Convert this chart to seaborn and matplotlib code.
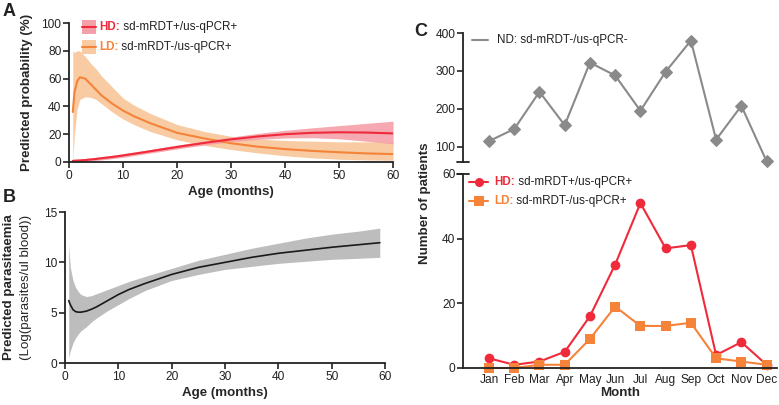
import numpy as np
import pandas as pd
import matplotlib
matplotlib.use("Agg")
import matplotlib.pyplot as plt
import seaborn as sns
from matplotlib.lines import Line2D

sns.set_theme(style="ticks")
plt.rcParams["font.family"] = ["Liberation Sans", "DejaVu Sans"]

# ---- panel A: predicted probability by age ----
age_a = [0.7, 1, 1.5, 2, 3, 4, 5, 6, 8, 10, 12, 15, 20, 25, 30, 35, 40, 45, 50, 55, 60]
ld_mid = [36, 50, 58, 61, 60, 56, 52, 48, 42, 37, 33, 28, 21, 17, 13.5, 11, 9.3, 8, 7, 6.2, 5.7]
ld_hi = [80, 79, 80, 80, 76, 71, 67, 62, 54, 46, 41, 35, 27, 22, 18.5, 16.5, 15.5, 15, 14.5, 14.5, 14.5]
ld_lo = [0, 20, 38, 45, 47, 46.5, 45, 42, 36, 31, 27, 22, 16, 12, 9, 6.5, 4.5, 3, 2, 1.5, 1.2]
hd_mid = [0.8, 0.9, 1.0, 1.1, 1.4, 1.8, 2.2, 2.7, 3.6, 4.7, 5.9, 7.7, 10.8, 13.7, 16.3, 18.4, 20.0, 21.0, 21.4, 21.2, 20.6]
hd_hi = [2.0, 2.0, 2.1, 2.2, 2.5, 2.9, 3.4, 3.9, 4.9, 6.0, 7.2, 9.0, 12.2, 15.2, 18.0, 20.6, 22.8, 24.6, 26.2, 27.8, 29.4]
hd_lo = [0.2, 0.2, 0.3, 0.3, 0.5, 0.8, 1.1, 1.5, 2.4, 3.4, 4.6, 6.4, 9.4, 12.2, 14.6, 16.3, 17.3, 17.5, 16.7, 15.0, 13.0]

# ---- panel B: predicted parasitaemia ----
age_b = [0.7, 1, 1.5, 2, 2.5, 3, 4, 5, 6, 8, 10, 12, 15, 20, 25, 30, 35, 40, 45, 50, 55, 59]
par_mid = [6.2, 5.8, 5.3, 5.1, 5.05, 5.05, 5.15, 5.35, 5.6, 6.2, 6.8, 7.3, 7.9, 8.8, 9.5, 10.0, 10.5, 10.9, 11.2, 11.5, 11.75, 11.95]
par_hi = [11.8, 9.5, 8.2, 7.5, 7.1, 6.8, 6.6, 6.7, 6.9, 7.3, 7.7, 8.1, 8.6, 9.4, 10.2, 10.8, 11.4, 11.9, 12.4, 12.8, 13.1, 13.4]
par_lo = [0.5, 1.2, 2.0, 2.5, 2.9, 3.2, 3.6, 4.1, 4.5, 5.2, 5.8, 6.4, 7.2, 8.2, 8.8, 9.3, 9.6, 9.9, 10.1, 10.3, 10.4, 10.5]

# ---- panel C: monthly counts ----
months = ["Jan", "Feb", "Mar", "Apr", "May", "Jun", "Jul", "Aug", "Sep", "Oct", "Nov", "Dec"]
nd_counts = [115, 147, 245, 157, 322, 288, 195, 298, 380, 119, 208, 62]
hd_counts = [3, 1, 2, 5, 16, 32, 51, 37, 38, 4, 8, 1]
ld_counts = [0, 0, 1, 1, 9, 19, 13, 13, 14, 3, 2, 1]

RED = "#ef2b3b"
RED_BAND = "#f5a0a8"
ORANGE = "#f5833a"
ORANGE_BAND = "#f9cba2"
GREY = "#8a8a8a"

TICK_FS = 8.6
LAB_FS = 9.6
LEG_FS = 8.4

fig = plt.figure(figsize=(7.79, 4.05), dpi=100)


def style_axis(ax):
    sns.despine(ax=ax)
    for s in ("left", "bottom"):
        ax.spines[s].set_linewidth(1.3)
        ax.spines[s].set_color("#222222")
    ax.tick_params(axis="both", length=4, width=1.2, labelsize=TICK_FS,
                   colors="#222222", pad=1.5)


def two_tone_text(ax, x, y, head, tail, color, head_bold=True):
    t = ax.text(x, y, head, color=color, fontsize=LEG_FS,
                fontweight="bold" if head_bold else "normal",
                transform=fig.transFigure, va="center", ha="left")
    ax.annotate(" " + tail, xy=(1, 0.5), xycoords=t, va="center", ha="left",
                fontsize=LEG_FS, color="#222222", zorder=10)


# ---------------- Panel A ----------------
axA = fig.add_axes([0.0886, 0.6, 0.416, 0.343])
axA.fill_between(age_a, ld_lo, ld_hi, color=ORANGE_BAND, lw=0)
axA.fill_between(age_a, hd_lo, hd_hi, color=RED_BAND, lw=0, alpha=0.9)
dfA = pd.DataFrame({"age": age_a * 2, "p": ld_mid + hd_mid,
                    "grp": ["LD"] * len(age_a) + ["HD"] * len(age_a)})
sns.lineplot(data=dfA, x="age", y="p", hue="grp",
             palette={"LD": ORANGE, "HD": RED}, lw=1.5, ax=axA, legend=False)
axA.set_xlim(0, 60)
axA.set_ylim(0, 100)
axA.set_xticks(range(0, 61, 10))
axA.set_yticks(range(0, 101, 20))
style_axis(axA)
axA.set_xlabel("Age (months)", fontsize=LAB_FS, fontweight="bold", labelpad=3)
axA.set_ylabel("")
fig.text(27 / 779, 1 - 92 / 405, "Predicted probability (%)", rotation=90,
         fontsize=LAB_FS, fontweight="bold", ha="center", va="center")

# legend A, drawn by hand
for yy, band, line in ((27, RED_BAND, RED), (47, ORANGE_BAND, ORANGE)):
    axA.add_patch(plt.Rectangle((82 / 779, 1 - (yy + 7) / 405), 14 / 779, 14 / 405,
                                transform=fig.transFigure, color=band, lw=0,
                                clip_on=False))
    fig.add_artist(Line2D([82 / 779, 96 / 779], [1 - yy / 405] * 2, color=line, lw=1.5))
two_tone_text(axA, 99 / 779, 1 - 27 / 405, "HD:", "sd-mRDT+/us-qPCR+", RED)
two_tone_text(axA, 99 / 779, 1 - 47 / 405, "LD:", "sd-mRDT-/us-qPCR+", ORANGE)

# ---------------- Panel B ----------------
axB = fig.add_axes([0.0834, 0.1037, 0.411, 0.3728])
axB.fill_between(age_b, par_lo, par_hi, color="#bdbdbd", lw=0)
sns.lineplot(x=age_b, y=par_mid, color="#1a1a1a", lw=1.2, ax=axB)
axB.set_xlim(0, 60)
axB.set_ylim(0, 15)
axB.set_xticks(range(0, 61, 10))
axB.set_yticks([0, 5, 10, 15])
style_axis(axB)
axB.set_xlabel("Age (months)", fontsize=LAB_FS, fontweight="bold", labelpad=3)
fig.text(9 / 779, 1 - 287 / 405, "Predicted parasitaemia", rotation=90,
         fontsize=LAB_FS, fontweight="bold", ha="center", va="center")
fig.text(26 / 779, 1 - 287 / 405, "(Log(parasites/ul blood))", rotation=90,
         fontsize=LAB_FS, ha="center", va="center")

# ---------------- Panel C ----------------
x_c = np.arange(len(months))
xlim_c = (-1.03, 11.43)
axC1 = fig.add_axes([463 / 779, 1 - 162 / 405, 0.998 - 463 / 779, 129 / 405])
sns.lineplot(x=x_c, y=nd_counts, color=GREY, lw=1.5, marker="D", markersize=6.5,
             markeredgecolor=GREY, ax=axC1, clip_on=False)
axC1.set_xlim(*xlim_c)
axC1.set_ylim(60, 400)
axC1.set_yticks([100, 200, 300, 400])
style_axis(axC1)
sns.despine(ax=axC1, bottom=True)
axC1.set_xticks([])
axC1.plot([-0.018, 0.018], [0, 0], transform=axC1.transAxes, color="#222222",
          lw=1.3, clip_on=False)
fig.add_artist(Line2D([472 / 779, 488 / 779], [1 - 40 / 405] * 2, color=GREY, lw=1.5))
fig.text(497 / 779, 1 - 40 / 405, "ND: sd-mRDT-/us-qPCR-", fontsize=LEG_FS,
         color="#222222", va="center")

axC2 = fig.add_axes([463 / 779, 1 - 368 / 405, 0.998 - 463 / 779, 194 / 405])
dfC = pd.DataFrame({"m": np.concatenate([x_c, x_c]),
                    "n": hd_counts + ld_counts,
                    "grp": ["HD"] * 12 + ["LD"] * 12})
sns.lineplot(data=dfC, x="m", y="n", hue="grp", style="grp",
             markers={"HD": "o", "LD": "s"}, dashes=False,
             palette={"HD": RED, "LD": ORANGE}, lw=1.5, markersize=7,
             markeredgewidth=0, ax=axC2, legend=False, clip_on=False)
axC2.set_xlim(*xlim_c)
axC2.set_ylim(0, 60)
axC2.set_yticks([0, 20, 40, 60])
axC2.set_xticks(x_c)
axC2.set_xticklabels(months)
style_axis(axC2)
axC2.tick_params(axis="x", length=0, pad=4)
axC2.plot([-0.018, 0.018], [1, 1], transform=axC2.transAxes, color="#222222",
          lw=1.3, clip_on=False)
axC2.set_xlabel("Month", fontsize=LAB_FS, fontweight="bold", labelpad=1)
axC2.set_ylabel("")
fig.text(425 / 779, 1 - 203 / 405, "Number of patients", rotation=90,
         fontsize=LAB_FS, fontweight="bold", ha="center", va="center")

for yy, col, mk, head, tail in ((182, RED, "o", "HD:", "sd-mRDT+/us-qPCR+"),
                                (201, ORANGE, "s", "LD:", "sd-mRDT-/us-qPCR+")):
    fig.add_artist(Line2D([469 / 779, 488 / 779], [1 - yy / 405] * 2, color=col, lw=1.5))
    fig.add_artist(Line2D([478.5 / 779], [1 - yy / 405], color=col, marker=mk,
                          markersize=6.5, markeredgewidth=0))
    two_tone_text(axC2, 494 / 779, 1 - yy / 405, head, tail, col)

# panel letters
for x, y, s in ((9, 12, "A"), (9, 197, "B"), (421, 32, "C")):
    fig.text(x / 779, 1 - y / 405, s, fontsize=13, fontweight="bold",
             ha="center", va="center", color="#222222")

fig.savefig("out.png", dpi=100)
